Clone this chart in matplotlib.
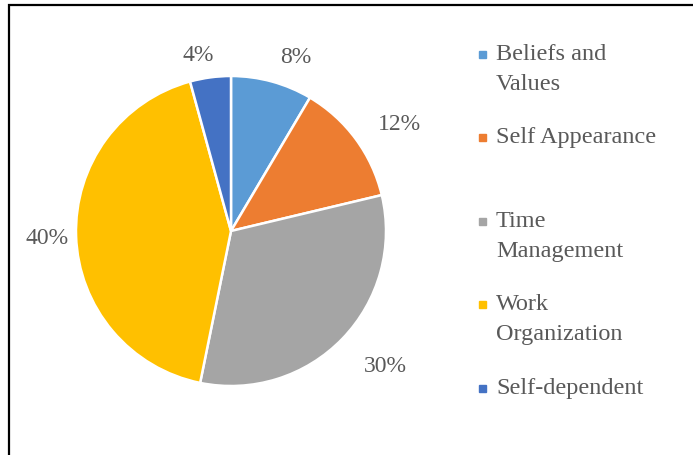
import numpy as np
import matplotlib.pyplot as plt
from matplotlib.patches import Rectangle

# data
categories = ['Beliefs and\nValues', 'Self Appearance', 'Time\nManagement',
              'Work\nOrganization', 'Self-dependent']
values = [8, 12, 30, 40, 4]
pct_labels = ['8%', '12%', '30%', '40%', '4%']
colors = ['#5B9BD5', '#ED7D31', '#A5A5A5', '#FFC000', '#4472C4']

# label placement (Excel "best fit" look): radius factor and angle nudge in deg
label_dist = [1.20, 1.29, 1.32, 1.19, 1.16]
label_nudge = [5, 4, -3, 0, -3]

plt.rcParams['font.family'] = ['Liberation Serif', 'DejaVu Serif']
txt_col = '#595959'
fs = 17

W, H = 693, 456
fig = plt.figure(figsize=(W / 100, H / 100), dpi=100)

# pie axes, centre ~ (231, 232) px, radius ~155 px
cx, cy, r = 231, 232, 155
ax = fig.add_axes([(cx - r) / W, (H - cy - r) / H, 2 * r / W, 2 * r / H])
wedges, texts = ax.pie(values, labels=pct_labels, colors=colors,
                       startangle=90, counterclock=False,
                       wedgeprops=dict(edgecolor='white', linewidth=1.8),
                       textprops=dict(color=txt_col, fontsize=fs))
for w, t, d, nd in zip(wedges, texts, label_dist, label_nudge):
    mid = np.deg2rad((w.theta1 + w.theta2) / 2 - nd)
    t.set_position((d * np.cos(mid), d * np.sin(mid)))
    t.set_ha('center')
    t.set_va('center')
ax.set_xlim(-1, 1)
ax.set_ylim(-1, 1)
ax.set_aspect('equal')

# legend on the right, fixed spacing like the original
leg_top = 55
step = 83.5
for i, (lab, c) in enumerate(zip(categories, colors)):
    y = H - (leg_top + i * step)
    fig.patches.append(Rectangle((479 / W, (y - 3.5) / H), 7 / W, 7 / H,
                                 transform=fig.transFigure, color=c))
    fig.text(496 / W, (y + 11) / H, lab, color=txt_col, fontsize=17.5,
             va='top', ha='left', linespacing=1.55)

# chart border (left and top visible)
fig.patches.append(Rectangle((9 / W, -0.01), 1.05, 1 - 6 / H + 0.01,
                             transform=fig.transFigure, fill=False,
                             edgecolor='black', linewidth=1.6))

fig.savefig('out.png', dpi=100)
